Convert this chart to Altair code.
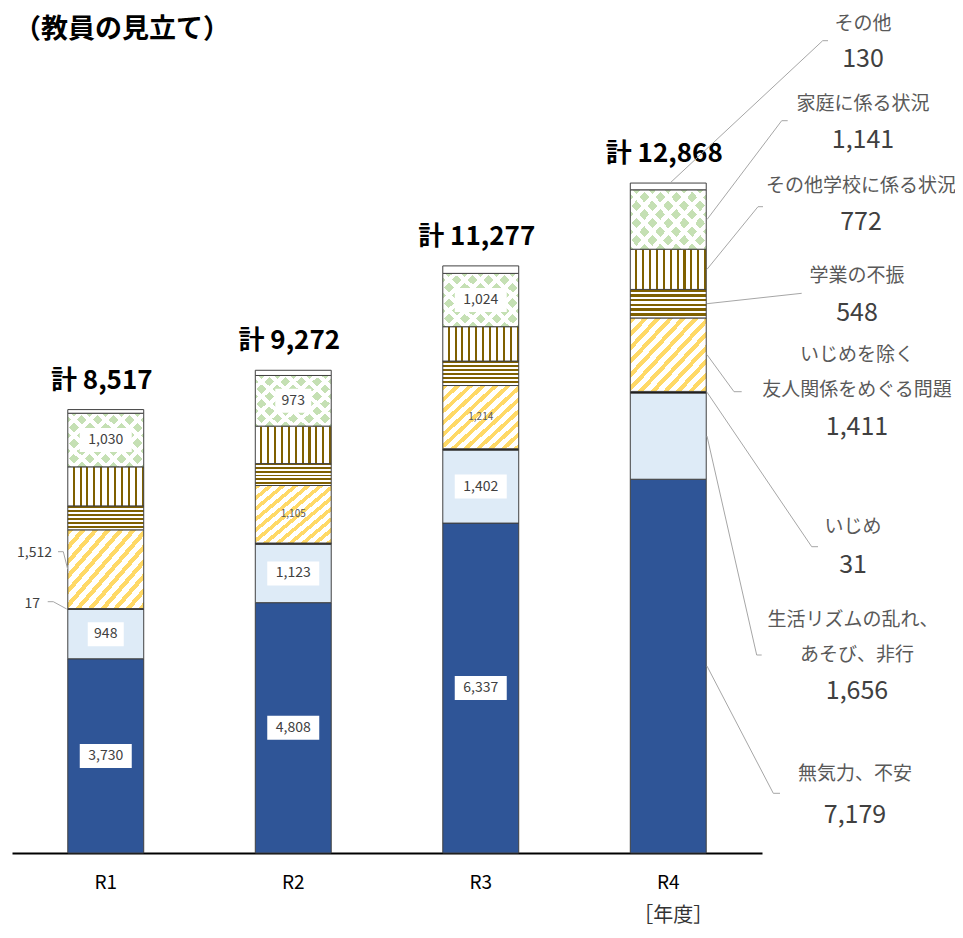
import altair as alt
import pandas as pd

# ---------------- data ----------------
YEARS = ["R1", "R2", "R3", "R4"]
CATEGORIES = [
    "無気力、不安",
    "生活リズムの乱れ、あそび、非行",
    "いじめ",
    "いじめを除く友人関係をめぐる問題",
    "学業の不振",
    "その他学校に係る状況",
    "家庭に係る状況",
    "その他",
]
MUKIRYOKU = [3730, 4808, 6337, 7179]
SEIKATSU = [948, 1123, 1402, 1656]
IJIME = [17, 23, 26, 31]
YUJIN = [1512, 1105, 1214, 1411]
GAKUGYO = [460, 420, 470, 548]
GAKKO = [750, 720, 660, 772]
KATEI = [1030, 973, 1024, 1141]
SONOTA = [70, 100, 144, 130]
SERIES = [MUKIRYOKU, SEIKATSU, IJIME, YUJIN, GAKUGYO, GAKKO, KATEI, SONOTA]

TITLE = "（教員の見立て）"
X_TITLE = "［年度］"

# right-hand legend labels (name lines) for each category
LEGEND_NAMES = {
    "その他": ["その他"],
    "家庭に係る状況": ["家庭に係る状況"],
    "その他学校に係る状況": ["その他学校に係る状況"],
    "学業の不振": ["学業の不振"],
    "いじめを除く友人関係をめぐる問題": ["いじめを除く", "友人関係をめぐる問題"],
    "いじめ": ["いじめ"],
    "生活リズムの乱れ、あそび、非行": ["生活リズムの乱れ、", "あそび、非行"],
    "無気力、不安": ["無気力、不安"],
}

# which in-bar labels are shown, and how
BOXED = [(y, c) for y in ["R1", "R2", "R3"]
         for c in ["無気力、不安", "生活リズムの乱れ、あそび、非行", "家庭に係る状況"]]
SMALL = [("R2", "いじめを除く友人関係をめぐる問題"), ("R3", "いじめを除く友人関係をめぐる問題")]

# ---------------- layout (pixels, page coordinates) ----------------
FONT = "Noto Sans CJK JP"
PLOT_LEFT, PLOT_TOP, PLOT_W, PLOT_H = 12, 20, 750, 833
YMAX = 16000


def u(py):
    """page pixel y -> value units of the y scale"""
    return (PLOT_TOP + PLOT_H - py) * YMAX / PLOT_H


def px(x):
    return x - PLOT_LEFT


# annotation placement: name lines (x, y), value (x, y), leader path points
RIGHT_LAYOUT = {
    "その他": dict(names=[(863, 24)], value=(863, 59), start="top", sx=670,
                  path=[(822.7, 40.7), (828, 40.7)]),
    "家庭に係る状況": dict(names=[(863, 104)], value=(863, 140), start="mid", sx=707,
                     path=[(781.7, 120.7), (787.7, 120.7)]),
    "その他学校に係る状況": dict(names=[(861, 186)], value=(861, 222), start="mid", sx=707,
                        path=[(758, 206.7), (763, 206.7)]),
    "学業の不振": dict(names=[(857, 276)], value=(857, 313), start="mid", sx=707,
                  path=[(801.7, 293.3)]),
    "いじめを除く友人関係をめぐる問題": dict(names=[(857, 355), (857, 390)], value=(857, 427),
                               start="mid", sx=707, path=[(734, 391.7), (741.7, 391.7)]),
    "いじめ": dict(names=[(853, 527)], value=(853, 565), start="mid", sx=707,
                path=[(811.7, 546.7), (818, 546.7)]),
    "生活リズムの乱れ、あそび、非行": dict(names=[(853, 620), (857, 655)], value=(857, 691),
                              start="mid", sx=707, path=[(756.7, 655), (761.7, 655)]),
    "無気力、不安": dict(names=[(855, 774)], value=(855, 815), start="mid", sx=707,
                   path=[(773.3, 793.3), (780, 793.3)]),
}
LEFT_LAYOUT = {
    "いじめを除く友人関係をめぐる問題": dict(value=(52, 553), sx=67.7,
                               path=[(63.3, 551.7), (58, 551.7)]),
    "いじめ": dict(value=(40, 604), sx=66.7, path=[(53.3, 601.7), (47.7, 601.7)]),
}

# ---------------- tables ----------------
rows = []
for ci, (cat, vals) in enumerate(zip(CATEGORIES, SERIES)):
    for yr, v in zip(YEARS, vals):
        style = "box" if (yr, cat) in BOXED else ("small" if (yr, cat) in SMALL else "")
        rows.append({"year": yr, "cat": cat, "order": ci, "value": v, "style": style})
df = pd.DataFrame(rows)


def stack_bounds(year_idx):
    out, acc = {}, 0
    for cat, vals in zip(CATEGORIES, SERIES):
        out[cat] = (acc, acc + vals[year_idx])
        acc += vals[year_idx]
    return out


b_r4 = stack_bounds(3)
b_r1 = stack_bounds(0)

line_rows, name_rows, value_rows = [], [], []
for cat, lay in RIGHT_LAYOUT.items():
    lo, hi = b_r4[cat]
    sy = hi if lay["start"] == "top" else (lo + hi) / 2
    pts = [(px(lay["sx"]), sy)] + [(px(x), u(y)) for x, y in lay["path"]]
    for i, (x, y) in enumerate(pts):
        line_rows.append({"key": "R_" + cat, "i": i, "px": x, "u": y})
    for text, (x, y) in zip(LEGEND_NAMES[cat], lay["names"]):
        name_rows.append({"t": text, "px": px(x), "u": u(y)})
    v = SERIES[CATEGORIES.index(cat)][3]
    value_rows.append({"t": f"{v:,}", "px": px(lay["value"][0]), "u": u(lay["value"][1])})

left_rows = []
for cat, lay in LEFT_LAYOUT.items():
    lo, hi = b_r1[cat]
    pts = [(px(lay["sx"]), (lo + hi) / 2)] + [(px(x), u(y)) for x, y in lay["path"]]
    for i, (x, y) in enumerate(pts):
        line_rows.append({"key": "L_" + cat, "i": i, "px": x, "u": y})
    v = SERIES[CATEGORIES.index(cat)][0]
    left_rows.append({"t": f"{v:,}", "px": px(lay["value"][0]), "u": u(lay["value"][1])})

lines_df = pd.DataFrame(line_rows)
names_df = pd.DataFrame(name_rows)
values_df = pd.DataFrame(value_rows)
left_df = pd.DataFrame(left_rows)


# ---------------- pattern fills (gradients) ----------------
def stripes(on, off, n, frac, x1, y1, x2, y2):
    stops = []
    k = 0
    while k / n < 1:
        a = k / n
        b = min((k + frac) / n, 1.0)
        c = min((k + 1) / n, 1.0)
        stops += [{"offset": round(a, 5), "color": on}, {"offset": round(b, 5), "color": on}]
        if b < 1:
            stops += [{"offset": round(b, 5), "color": off}, {"offset": round(c, 5), "color": off}]
        k += 1
    return {"gradient": "linear", "x1": x1, "y1": y1, "x2": x2, "y2": y2, "stops": stops}


BROWN = "#7F6000"
YELLOW = "#FFD966"
GREEN = "#C5E0B4"
WHITE = "#FFFFFF"
CLEAR = "rgba(255,255,255,0)"
EDGE = "#404040"

FILLS = {
    "無気力、不安": ["#2F5597"],
    "生活リズムの乱れ、あそび、非行": ["#DEEBF7"],
    "いじめ": ["#000000"],
    "いじめを除く友人関係をめぐる問題": [stripes(YELLOW, WHITE, 12, 0.45, 0, 0, 1.1, 0.99)],
    "学業の不振": [stripes(BROWN, WHITE, 6, 0.5, 0, 0, 0, 1)],
    "その他学校に係る状況": [stripes(WHITE, BROWN, 11, 0.7, 0, 0, 1, 0)],
    "家庭に係る状況": [stripes(GREEN, WHITE, 8.7, 0.62, 0, 0, 1.2, 0.864),
                stripes(CLEAR, WHITE, 8.7, 0.62, 1, 0, -0.2, 0.864)],
    "その他": [WHITE],
}

# ---------------- chart ----------------
x_enc = alt.X(
    "year:N", sort=YEARS,
    scale=alt.Scale(paddingInner=0.595, paddingOuter=0.2975),
    axis=alt.Axis(title=None, labelAngle=0, labelFont=FONT, labelFontSize=19,
                  labelColor="#000000", domainColor="#000000", domainWidth=2,
                  ticks=False, labelPadding=20),
)
y_scale = alt.Scale(domain=[0, YMAX], nice=False, zero=True)

base = alt.Chart(df).transform_stack(
    stack="value", groupby=["year"], as_=["y0", "y1"],
    sort=[alt.SortField("order", order="ascending")],
)

layers = []
for cat in CATEGORIES:
    fills = FILLS[cat]
    for j, f in enumerate(fills):
        last = j == len(fills) - 1
        kw = dict(fill=f, stroke=EDGE, strokeWidth=1) if last else dict(fill=f, strokeWidth=0)
        layers.append(
            base.transform_filter(alt.datum.cat == cat)
            .mark_bar(**kw)
            .encode(x=x_enc, y=alt.Y("y0:Q", scale=y_scale, axis=None), y2="y1:Q")
        )

lab_base = base.transform_calculate(
    mid="(datum.y0 + datum.y1) / 2",
    lab="format(datum.value, ',')",
    w="length(format(datum.value, ',')) * 8 + 12",
).transform_calculate(
    shp="'M-1,' + (-24/datum.w) + 'L1,' + (-24/datum.w) + 'L1,' + (24/datum.w) + 'L-1,' + (24/datum.w) + 'Z'",
    sz="datum.w * datum.w",
)

layers.append(
    lab_base.transform_filter(alt.datum.style == "box")
    .mark_point(filled=True, fill="white", opacity=1, strokeWidth=0)
    .encode(x=x_enc, y=alt.Y("mid:Q", scale=y_scale, axis=None),
            shape=alt.Shape("shp:N", scale=None), size=alt.Size("sz:Q", scale=None))
)
layers.append(
    lab_base.transform_filter(alt.datum.style == "box")
    .mark_text(font=FONT, fontSize=14, color="#404040")
    .encode(x=x_enc, y=alt.Y("mid:Q", scale=y_scale, axis=None), text="lab:N")
)
layers.append(
    lab_base.transform_filter(alt.datum.style == "small")
    .mark_text(font=FONT, fontSize=10, color="#595959")
    .encode(x=x_enc, y=alt.Y("mid:Q", scale=y_scale, axis=None), text="lab:N")
)

# totals
layers.append(
    base.transform_aggregate(total="sum(value)", groupby=["year"])
    .transform_calculate(lab="'計 ' + format(datum.total, ',')")
    .mark_text(font=FONT, fontSize=26, fontWeight="bold", color="#000000", dy=-29, dx=-4)
    .encode(x=x_enc, y=alt.Y("total:Q", scale=y_scale, axis=None), text="lab:N")
)

# leader lines
layers.append(
    alt.Chart(lines_df).mark_line(color="#A6A6A6", strokeWidth=1)
    .encode(x=alt.X("px:Q", scale=None, axis=None),
            y=alt.Y("u:Q", scale=y_scale, axis=None),
            detail="key:N", order="i:Q")
)
layers.append(
    alt.Chart(names_df).mark_text(font=FONT, fontSize=19, color="#595959")
    .encode(x=alt.X("px:Q", scale=None, axis=None),
            y=alt.Y("u:Q", scale=y_scale, axis=None), text="t:N")
)
layers.append(
    alt.Chart(values_df).mark_text(font=FONT, fontSize=25, color="#404040")
    .encode(x=alt.X("px:Q", scale=None, axis=None),
            y=alt.Y("u:Q", scale=y_scale, axis=None), text="t:N")
)
layers.append(
    alt.Chart(left_df).mark_text(font=FONT, fontSize=14, color="#404040", align="right")
    .encode(x=alt.X("px:Q", scale=None, axis=None),
            y=alt.Y("u:Q", scale=y_scale, axis=None), text="t:N")
)

# x-axis unit under R4
layers.append(
    alt.Chart(pd.DataFrame({"year": ["R4"], "t": [X_TITLE]}))
    .mark_text(font=FONT, fontSize=20, color="#333333", dx=5)
    .encode(x=x_enc, y=alt.value(PLOT_H + 63), text="t:N")
)
# title (top-left, kept fully visible)
layers.append(
    alt.Chart(pd.DataFrame({"t": [TITLE]}))
    .mark_text(font=FONT, fontSize=27, fontWeight="bold", color="#000000",
               align="left", baseline="middle")
    .encode(x=alt.value(2), y=alt.value(10), text="t:N")
)

chart = (
    alt.layer(*layers)
    .properties(
        width=PLOT_W, height=PLOT_H,
        padding={"left": 4, "top": 12, "right": 193, "bottom": 77},
        autosize=alt.AutoSizeParams(type="none"),
        background="white",
    )
    .configure_view(stroke=None)
)

chart.save("out.html", embed_options={"renderer": "svg", "actions": False})
